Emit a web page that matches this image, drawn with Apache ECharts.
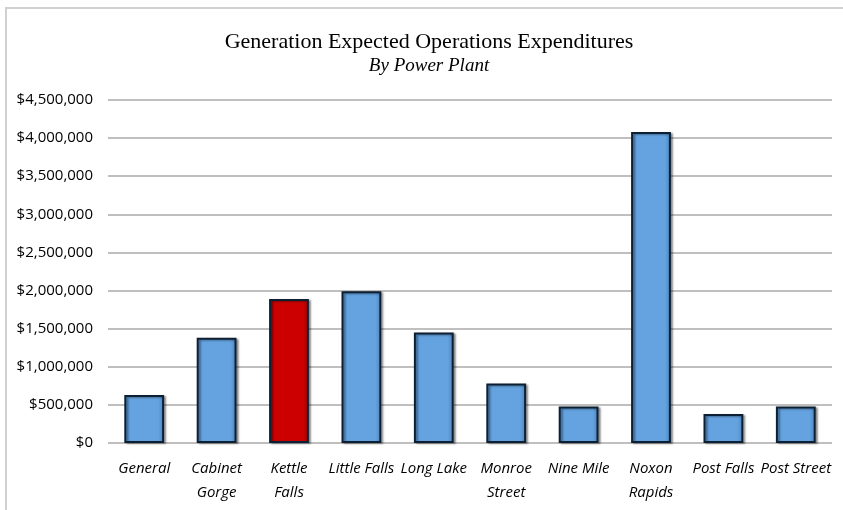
<!DOCTYPE html>
<html>
<head>
<meta charset="utf-8">
<script src="https://cdn.jsdelivr.net/npm/echarts@6/dist/echarts.min.js"></script>
<style>
  html, body { margin: 0; padding: 0; background: #fff; overflow: hidden; }
  .frame { position: absolute; left: 5px; top: 7px; width: 900px; height: 600px; border-top: 2px solid #d0d0d0; border-left: 2px solid #d0d0d0; }
  #chart { position: absolute; left: 0; top: 0; width: 843px; height: 510px; }
</style>
</head>
<body>
<div class="frame"></div>
<div id="chart"></div>
<script>
  // plant names (line breaks as in the original axis)
  var categories = ['General', 'Cabinet\nGorge', 'Kettle\nFalls', 'Little Falls', 'Long Lake',
    'Monroe\nStreet', 'Nine Mile', 'Noxon\nRapids', 'Post Falls', 'Post Street'];
  // expected operations expenditures
  var expenditures = [630000, 1380000, 1890000, 1990000, 1450000, 780000, 480000, 4080000, 380000, 480000];
  var highlightIndex = 2; // Kettle Falls drawn in red

  var blueFill = new echarts.graphic.LinearGradient(0, 0, 1, 0, [
    { offset: 0, color: '#4f8bc6' },
    { offset: 0.15, color: '#65a3e0' },
    { offset: 0.85, color: '#65a3e0' },
    { offset: 1, color: '#4a82bb' }
  ]);
  var redFill = new echarts.graphic.LinearGradient(0, 0, 1, 0, [
    { offset: 0, color: '#a80000' },
    { offset: 0.15, color: '#cc0000' },
    { offset: 0.85, color: '#cc0000' },
    { offset: 1, color: '#a00000' }
  ]);

  var chart = echarts.init(document.getElementById('chart'));
  chart.setOption({
    animation: false,
    title: {
      text: 'Generation Expected Operations Expenditures',
      subtext: 'By Power Plant',
      left: 424,
      textAlign: 'center',
      top: 26,
      itemGap: 3,
      textStyle: { fontFamily: 'Liberation Serif', fontWeight: 'normal', fontSize: 22, color: '#000' },
      subtextStyle: { fontFamily: 'Liberation Serif', fontStyle: 'italic', fontSize: 19, color: '#000' }
    },
    grid: { left: 108, right: 11, top: 100, bottom: 67 },
    xAxis: {
      type: 'category',
      data: categories,
      axisLine: { show: false },
      axisTick: { show: false },
      axisLabel: {
        interval: 0,
        margin: 14,
        fontFamily: 'Open Sans',
        fontStyle: 'italic',
        fontSize: 15,
        lineHeight: 24,
        color: '#000'
      }
    },
    yAxis: {
      type: 'value',
      min: 0,
      max: 4500000,
      interval: 500000,
      axisLine: { show: false },
      axisTick: { show: false },
      splitLine: { lineStyle: { color: '#bfbfbf', width: 2 } },
      axisLabel: {
        margin: 15,
        fontFamily: 'Open Sans',
        fontSize: 15,
        color: '#000',
        formatter: function (v) { return '$' + v.toLocaleString('en-US'); }
      }
    },
    series: [{
      type: 'bar',
      barWidth: '55%',
      data: expenditures.map(function (v, i) {
        return {
          value: v,
          itemStyle: { color: i === highlightIndex ? redFill : blueFill }
        };
      }),
      itemStyle: {
        borderColor: '#0d1f33',
        borderWidth: 2,
        shadowColor: 'rgba(0,0,0,0.35)',
        shadowOffsetX: 2,
        shadowOffsetY: 1,
        shadowBlur: 2
      }
    }]
  });
</script>
</body>
</html>
